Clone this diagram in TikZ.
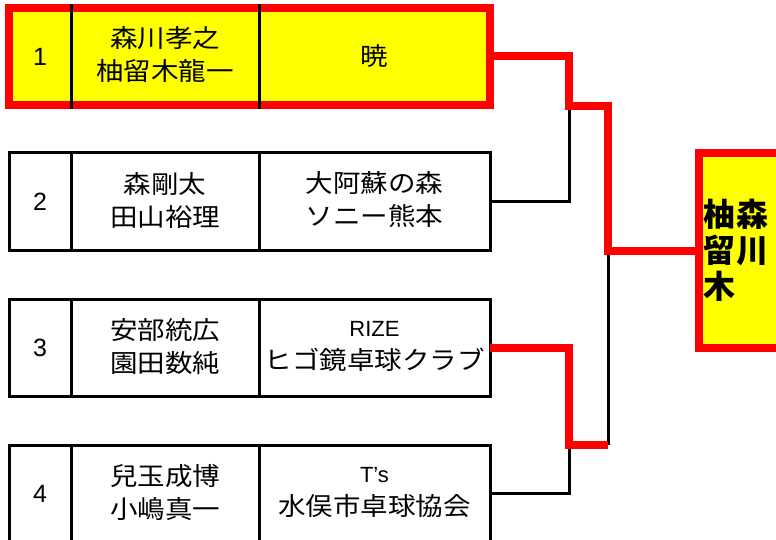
\documentclass[tikz,border=0pt]{standalone}
\usepackage{fontspec}
\setmainfont{Liberation Sans}
\newfontfamily\jp[FakeStretch=1.1]{Noto Sans CJK JP}
\newfontfamily\jpw{Noto Sans CJK JP}
\definecolor{hiyellow}{RGB}{255,255,0}
\definecolor{winred}{RGB}{255,0,0}
\begin{document}
\begin{tikzpicture}[x=1pt,y=-1pt,
  rowbox/.style={rectangle,draw=black,line width=3pt,minimum width=481pt,minimum height=97pt,inner sep=0pt,outer sep=0pt},
  toprow/.style={rowbox,draw=winred,line width=8pt,fill=hiyellow},
  winbox/.style={rectangle,draw=winred,line width=8pt,fill=hiyellow,minimum width=140pt,minimum height=194.5pt,inner sep=0pt,outer sep=0pt},
  divider/.style={draw=black,line width=3pt},
  numtext/.style={font=\fontsize{25}{28}\selectfont,inner sep=0pt},
  celltext/.style={align=center,font=\jp\fontsize{25}{33}\selectfont,inner sep=0pt},
  wintext/.style={align=center,font=\jpw\bfseries\fontsize{32}{36}\selectfont,inner sep=0pt},
  lose/.style={draw=black,line width=3pt,line join=miter},
  win/.style={draw=winred,line width=8pt,line join=miter}]
\useasboundingbox (0,0) rectangle (776,540);
% row boxes
\node[toprow] (r1) at (249.5,56.5) {};
\node[rowbox] (r2) at (249.5,201.5) {};
\node[rowbox] (r3) at (249.5,347.5) {};
\node[rowbox] (r4) at (249.5,493.5) {};
% column dividers
\draw[divider] ([xshift=62pt,yshift=4pt]r1.north west) -- ([xshift=62pt,yshift=-4pt]r1.south west);
\draw[divider] ([xshift=250pt,yshift=4pt]r1.north west) -- ([xshift=250pt,yshift=-4pt]r1.south west);
\foreach \r in {r2,r3,r4}{
  \draw[divider] ([xshift=62pt]\r.north west) -- ([xshift=62pt]\r.south west);
  \draw[divider] ([xshift=250pt]\r.north west) -- ([xshift=250pt]\r.south west);
}
% texts
\node[numtext] (k1) at (40,56.5) {1};
\node[numtext] (k2) at (40,201.5) {2};
\node[numtext] (k3) at (40,347.5) {3};
\node[numtext] (k4) at (40,493.5) {4};
\node[celltext] (n1) at (165,54.5) {森川孝之\\柚留木龍一};
\node[celltext] (n2) at (165,200) {森剛太\\田山裕理};
\node[celltext] (n3) at (165,346.5) {安部統広\\園田数純};
\node[celltext] (n4) at (165,492.5) {兒玉成博\\小嶋真一};
\node[celltext] (t1) at (374.5,56.5) {暁};
\node[celltext] (t2) at (374.5,200) {大阿蘇の森\\ソニー熊本};
\node[celltext] (t3) at (374.5,346.5) {{\rmfamily\fontsize{22}{33}\selectfont RIZE}\\ヒゴ鏡卓球クラブ};
\node[celltext] (t4) at (374.5,492.5) {{\rmfamily\fontsize{22}{33}\selectfont T’s}\\水俣市卓球協会};
% winner box
\node[winbox] (w) at (769,250.75) {};
\node[wintext] (wa) at (752,232) {森\\川};
\node[wintext] (wb) at (719,250) {柚\\留\\木};
% junctions
\coordinate (j1) at (569,106);
\coordinate (j2) at (569,445);
\coordinate (f) at (608,250.75);
% losing lines
\draw[lose] (r2.east) -| (j1);
\draw[lose] (r4.east) -| (j2);
\draw[lose] (f |- j2) -- (f);
% winning lines
\draw[win] (r1.east) -| (j1) -- (f |- j1) -- (f) -- (w.west);
\draw[win] (r3.east) -| (j2) -- (f |- j2);
\end{tikzpicture}
\end{document}
